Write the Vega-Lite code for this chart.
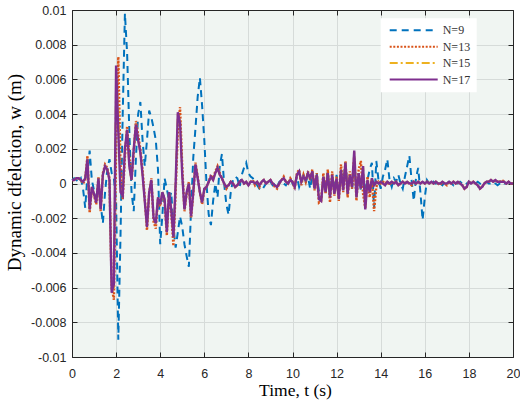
{
"$schema": "https://vega.github.io/schema/vega-lite/v6.json",
"width": 441, "height": 347,
"autosize": {"type": "none"},
"padding": {"left": 72, "top": 10, "right": 7, "bottom": 48},
"background": "white",
"config": {
  "view": {"fill": "#F0F5F2", "stroke": null},
  "axis": {"domainColor": "#262626", "tickColor": "#262626", "labelColor": "#262626", "labelFont": "Liberation Sans", "labelFontSize": 12.5, "gridColor": "#D6DBD9", "gridWidth": 1, "domainWidth": 1, "tickWidth": 1, "titleFont": "Liberation Serif", "titleFontWeight": "normal", "titleColor": "#000000"}
},
"data": {"values": [
{"t":0,"N=9":0.0002,"N=13":0.0002,"N=15":0.0002,"N=17":0.0002},
{"t":0.1,"N=9":0.0003,"N=13":0.0002,"N=15":0.0002,"N=17":0.0002},
{"t":0.2,"N=9":0.0002,"N=13":0.0003,"N=15":0.0003,"N=17":0.0003},
{"t":0.3,"N=9":0.0001,"N=13":0.0003,"N=15":0.0003,"N=17":0.0003},
{"t":0.4,"N=9":0.0003,"N=13":0.0002,"N=15":0.0002,"N=17":0.0002},
{"t":0.5,"N=9":-0.0003,"N=13":0,"N=15":0.0001,"N=17":0.0001},
{"t":0.6,"N=9":-0.0014,"N=13":0.0002,"N=15":0.0003,"N=17":0.0003},
{"t":0.7,"N=9":0.0005,"N=13":0.0016,"N=15":0.0014,"N=17":0.0014},
{"t":0.8,"N=9":0.0019,"N=13":-0.0017,"N=15":-0.0015,"N=17":-0.0015},
{"t":0.9,"N=9":0.0002,"N=13":-0.0003,"N=15":-0.0002,"N=17":-0.0002},
{"t":1.0,"N=9":-0.0004,"N=13":-0.0007,"N=15":-0.0006,"N=17":-0.0006},
{"t":1.1,"N=9":-0.0007,"N=13":-0.0012,"N=15":-0.0011,"N=17":-0.0011},
{"t":1.2,"N=9":-0.0002,"N=13":0.0004,"N=15":0.0003,"N=17":0.0003},
{"t":1.3,"N=9":-0.0012,"N=13":-0.0016,"N=15":-0.0015,"N=17":-0.0015},
{"t":1.4,"N=9":-0.0023,"N=13":0.0006,"N=15":0.0005,"N=17":0.0005},
{"t":1.5,"N=9":-0.0005,"N=13":0.0011,"N=15":0.001,"N=17":0.001},
{"t":1.6,"N=9":0.0008,"N=13":0.0009,"N=15":0.0008,"N=17":0.0008},
{"t":1.7,"N=9":0.0014,"N=13":0.0003,"N=15":0.0002,"N=17":0.0002},
{"t":1.8,"N=9":0.0006,"N=13":-0.006,"N=15":-0.0062,"N=17":-0.0063},
{"t":1.9,"N=9":0.0003,"N=13":-0.0067,"N=15":-0.006,"N=17":-0.0058},
{"t":2.0,"N=9":-0.001,"N=13":0.002,"N=15":0.006,"N=17":0.0068},
{"t":2.1,"N=9":-0.009,"N=13":0.0073,"N=15":0.0045,"N=17":0.003},
{"t":2.2,"N=9":-0.003,"N=13":0.001,"N=15":-0.0002,"N=17":-0.0005},
{"t":2.3,"N=9":0.004,"N=13":-0.0009,"N=15":-0.0007,"N=17":-0.0007},
{"t":2.4,"N=9":0.0098,"N=13":0.0015,"N=15":0.002,"N=17":0.002},
{"t":2.5,"N=9":0.0075,"N=13":0.0033,"N=15":0.0031,"N=17":0.0031},
{"t":2.6,"N=9":0.003,"N=13":0.0015,"N=15":0.001,"N=17":0.001},
{"t":2.7,"N=9":-0.0005,"N=13":0.0002,"N=15":0.0002,"N=17":0.0002},
{"t":2.8,"N=9":-0.0016,"N=13":0.0018,"N=15":0.002,"N=17":0.002},
{"t":2.9,"N=9":0.0015,"N=13":0.0036,"N=15":0.0034,"N=17":0.0034},
{"t":3.0,"N=9":0.004,"N=13":0.0028,"N=15":0.0025,"N=17":0.0025},
{"t":3.1,"N=9":0.0047,"N=13":0.002,"N=15":0.0018,"N=17":0.0018},
{"t":3.2,"N=9":0.0025,"N=13":0.0008,"N=15":0.0005,"N=17":0.0005},
{"t":3.3,"N=9":0.001,"N=13":-0.0008,"N=15":-0.001,"N=17":-0.001},
{"t":3.4,"N=9":0.0025,"N=13":-0.0027,"N=15":-0.0025,"N=17":-0.0025},
{"t":3.5,"N=9":0.0042,"N=13":-0.0006,"N=15":-0.0005,"N=17":-0.0005},
{"t":3.6,"N=9":0.0038,"N=13":0.0003,"N=15":0.0002,"N=17":0.0002},
{"t":3.7,"N=9":0.0032,"N=13":-0.0022,"N=15":-0.002,"N=17":-0.002},
{"t":3.8,"N=9":0.0025,"N=13":-0.0026,"N=15":-0.0023,"N=17":-0.0023},
{"t":3.9,"N=9":0.0008,"N=13":-0.0009,"N=15":-0.0008,"N=17":-0.0008},
{"t":4.0,"N=9":-0.0035,"N=13":-0.0013,"N=15":-0.0012,"N=17":-0.0012},
{"t":4.1,"N=9":-0.0018,"N=13":-0.0006,"N=15":-0.0005,"N=17":-0.0005},
{"t":4.2,"N=9":0.0003,"N=13":-0.001,"N=15":-0.0009,"N=17":-0.0009},
{"t":4.3,"N=9":-0.0003,"N=13":-0.003,"N=15":-0.0028,"N=17":-0.0028},
{"t":4.4,"N=9":-0.001,"N=13":-0.0006,"N=15":-0.0005,"N=17":-0.0005},
{"t":4.5,"N=9":-0.0005,"N=13":-0.0017,"N=15":-0.0015,"N=17":-0.0015},
{"t":4.6,"N=9":-0.0025,"N=13":-0.0036,"N=15":-0.0031,"N=17":-0.0031},
{"t":4.7,"N=9":-0.0037,"N=13":-0.0005,"N=15":0,"N=17":0},
{"t":4.8,"N=9":-0.0028,"N=13":0.003,"N=15":0.004,"N=17":0.0041},
{"t":4.9,"N=9":-0.0019,"N=13":0.0044,"N=15":0.0036,"N=17":0.0035},
{"t":5.0,"N=9":-0.0025,"N=13":0.001,"N=15":0.0005,"N=17":0.0005},
{"t":5.1,"N=9":-0.0035,"N=13":-0.0016,"N=15":-0.0015,"N=17":-0.0015},
{"t":5.2,"N=9":-0.0042,"N=13":-0.0006,"N=15":-0.0005,"N=17":-0.0005},
{"t":5.3,"N=9":-0.0048,"N=13":0.0001,"N=15":0,"N=17":0},
{"t":5.4,"N=9":-0.0015,"N=13":-0.002,"N=15":-0.0019,"N=17":-0.0019},
{"t":5.5,"N=9":0.0015,"N=13":-0.0006,"N=15":-0.0005,"N=17":-0.0005},
{"t":5.6,"N=9":0.0032,"N=13":0.0012,"N=15":0.0011,"N=17":0.0011},
{"t":5.7,"N=9":0.005,"N=13":0.0004,"N=15":0.0003,"N=17":0.0003},
{"t":5.8,"N=9":0.0061,"N=13":-0.0005,"N=15":-0.0005,"N=17":-0.0005},
{"t":5.9,"N=9":0.0045,"N=13":-0.0012,"N=15":-0.0011,"N=17":-0.0011},
{"t":6.0,"N=9":0.0025,"N=13":-0.0004,"N=15":-0.0003,"N=17":-0.0003},
{"t":6.1,"N=9":0,"N=13":-0.0002,"N=15":-0.0002,"N=17":-0.0002},
{"t":6.2,"N=9":-0.0018,"N=13":0.0001,"N=15":0.0001,"N=17":0.0001},
{"t":6.3,"N=9":-0.0024,"N=13":0.0005,"N=15":0.0004,"N=17":0.0004},
{"t":6.4,"N=9":-0.001,"N=13":0.0003,"N=15":0.0002,"N=17":0.0002},
{"t":6.5,"N=9":0,"N=13":0.0007,"N=15":0.0006,"N=17":0.0006},
{"t":6.6,"N=9":-0.0008,"N=13":0.001,"N=15":0.0009,"N=17":0.0009},
{"t":6.7,"N=9":0.001,"N=13":0.0006,"N=15":0.0005,"N=17":0.0005},
{"t":6.8,"N=9":0.0017,"N=13":0.0003,"N=15":0.0003,"N=17":0.0003},
{"t":6.9,"N=9":0,"N=13":0,"N=15":0,"N=17":0},
{"t":7.0,"N=9":-0.0012,"N=13":-0.0003,"N=15":-0.0002,"N=17":-0.0002},
{"t":7.1,"N=9":-0.0018,"N=13":-0.0001,"N=15":-0.0001,"N=17":-0.0001},
{"t":7.2,"N=9":-0.0005,"N=13":0.0001,"N=15":0.0001,"N=17":0.0001},
{"t":7.3,"N=9":0.0002,"N=13":0,"N=15":0,"N=17":0},
{"t":7.4,"N=9":0.0004,"N=13":-0.0002,"N=15":-0.0002,"N=17":-0.0002},
{"t":7.5,"N=9":0.0003,"N=13":-0.0001,"N=15":-0.0001,"N=17":-0.0001},
{"t":7.6,"N=9":-0.0002,"N=13":0.0001,"N=15":0.0001,"N=17":0.0001},
{"t":7.7,"N=9":0.0005,"N=13":0.0002,"N=15":0.0002,"N=17":0.0002},
{"t":7.8,"N=9":0.0009,"N=13":0,"N=15":0,"N=17":0},
{"t":7.9,"N=9":0.0012,"N=13":0.0001,"N=15":0.0001,"N=17":0.0001},
{"t":8.0,"N=9":0.0006,"N=13":-0.0001,"N=15":-0.0001,"N=17":-0.0001},
{"t":8.1,"N=9":0.0004,"N=13":0.0001,"N=15":0.0001,"N=17":0.0001},
{"t":8.2,"N=9":0.0003,"N=13":0.0002,"N=15":0.0001,"N=17":0.0001},
{"t":8.3,"N=9":0.0001,"N=13":-0.0001,"N=15":0,"N=17":0},
{"t":8.4,"N=9":-0.0001,"N=13":0.0001,"N=15":0.0001,"N=17":0.0001},
{"t":8.5,"N=9":-0.0003,"N=13":-0.0002,"N=15":-0.0001,"N=17":-0.0001},
{"t":8.6,"N=9":-0.0004,"N=13":0.0001,"N=15":0.0001,"N=17":0.0001},
{"t":8.7,"N=9":-0.0002,"N=13":0.0002,"N=15":0.0002,"N=17":0.0002},
{"t":8.8,"N=9":0,"N=13":0,"N=15":0,"N=17":0},
{"t":8.9,"N=9":0.0002,"N=13":0.0001,"N=15":0.0001,"N=17":0.0001},
{"t":9.0,"N=9":0.0001,"N=13":0.0002,"N=15":0.0002,"N=17":0.0002},
{"t":9.1,"N=9":-0.0001,"N=13":0,"N=15":0,"N=17":0},
{"t":9.2,"N=9":0,"N=13":-0.0002,"N=15":-0.0001,"N=17":-0.0001},
{"t":9.3,"N=9":-0.0002,"N=13":-0.0003,"N=15":-0.0002,"N=17":-0.0002},
{"t":9.4,"N=9":0.0001,"N=13":0,"N=15":0,"N=17":0},
{"t":9.5,"N=9":0.0002,"N=13":0.0002,"N=15":0.0002,"N=17":0.0002},
{"t":9.6,"N=9":0,"N=13":0.0004,"N=15":0.0003,"N=17":0.0003},
{"t":9.7,"N=9":-0.0001,"N=13":0.0001,"N=15":0.0001,"N=17":0.0001},
{"t":9.8,"N=9":0.0001,"N=13":0,"N=15":0,"N=17":0},
{"t":9.9,"N=9":0.0003,"N=13":0.0003,"N=15":0.0002,"N=17":0.0002},
{"t":10.0,"N=9":0,"N=13":0.0001,"N=15":0.0001,"N=17":0.0001},
{"t":10.1,"N=9":-0.0002,"N=13":-0.0003,"N=15":-0.0002,"N=17":-0.0002},
{"t":10.2,"N=9":0.0004,"N=13":0.0006,"N=15":0.0005,"N=17":0.0005},
{"t":10.3,"N=9":-0.0002,"N=13":0.0008,"N=15":0.0007,"N=17":0.0007},
{"t":10.4,"N=9":0.0002,"N=13":-0.0001,"N=15":0.0001,"N=17":0.0001},
{"t":10.5,"N=9":0.0005,"N=13":0.0005,"N=15":0.0004,"N=17":0.0004},
{"t":10.6,"N=9":0.0001,"N=13":0.0001,"N=15":0.0002,"N=17":0.0002},
{"t":10.7,"N=9":0.0004,"N=13":0.0007,"N=15":0.0006,"N=17":0.0006},
{"t":10.8,"N=9":-0.0003,"N=13":0.0002,"N=15":0.0003,"N=17":0.0003},
{"t":10.9,"N=9":0.0005,"N=13":0.0008,"N=15":0.0007,"N=17":0.0007},
{"t":11.0,"N=9":-0.0002,"N=13":-0.0004,"N=15":-0.0003,"N=17":-0.0003},
{"t":11.1,"N=9":0.0006,"N=13":0.0006,"N=15":0.0005,"N=17":0.0005},
{"t":11.2,"N=9":-0.0005,"N=13":-0.0011,"N=15":-0.0009,"N=17":-0.0009},
{"t":11.3,"N=9":-0.0009,"N=13":-0.001,"N=15":-0.001,"N=17":-0.001},
{"t":11.4,"N=9":0.0003,"N=13":0.0006,"N=15":0.0004,"N=17":0.0004},
{"t":11.5,"N=9":-0.0004,"N=13":-0.0006,"N=15":-0.0005,"N=17":-0.0005},
{"t":11.6,"N=9":0.0007,"N=13":0.0008,"N=15":0.0006,"N=17":0.0006},
{"t":11.7,"N=9":-0.0006,"N=13":-0.0011,"N=15":-0.0008,"N=17":-0.0008},
{"t":11.8,"N=9":0.0004,"N=13":0.0007,"N=15":0.0005,"N=17":0.0005},
{"t":11.9,"N=9":-0.0003,"N=13":-0.0007,"N=15":-0.0006,"N=17":-0.0006},
{"t":12.0,"N=9":0.0005,"N=13":0.0004,"N=15":0.0003,"N=17":0.0003},
{"t":12.1,"N=9":-0.0006,"N=13":-0.001,"N=15":-0.0009,"N=17":-0.0009},
{"t":12.2,"N=9":0.0006,"N=13":0.0011,"N=15":0.0008,"N=17":0.0008},
{"t":12.3,"N=9":0,"N=13":-0.0005,"N=15":-0.0004,"N=17":-0.0004},
{"t":12.4,"N=9":0.0012,"N=13":0.0013,"N=15":0.0012,"N=17":0.0012},
{"t":12.5,"N=9":-0.0002,"N=13":-0.0008,"N=15":-0.0006,"N=17":-0.0006},
{"t":12.6,"N=9":0.0004,"N=13":0.0007,"N=15":0.0005,"N=17":0.0005},
{"t":12.7,"N=9":-0.0003,"N=13":-0.0003,"N=15":-0.0002,"N=17":-0.0002},
{"t":12.8,"N=9":0.0008,"N=13":0.0015,"N=15":0.0018,"N=17":0.0019},
{"t":12.9,"N=9":-0.0005,"N=13":-0.001,"N=15":-0.0008,"N=17":-0.0008},
{"t":13.0,"N=9":0.0006,"N=13":0.0008,"N=15":0.0006,"N=17":0.0006},
{"t":13.1,"N=9":-0.0004,"N=13":0.0013,"N=15":-0.0003,"N=17":-0.0003},
{"t":13.2,"N=9":0.0005,"N=13":-0.0006,"N=15":0.001,"N=17":0.001},
{"t":13.3,"N=9":-0.0003,"N=13":-0.0014,"N=15":-0.0015,"N=17":-0.0015},
{"t":13.4,"N=9":0.0002,"N=13":0.0004,"N=15":0.0002,"N=17":0.0002},
{"t":13.5,"N=9":0.0008,"N=13":-0.0008,"N=15":-0.0005,"N=17":-0.0005},
{"t":13.6,"N=9":0.0012,"N=13":0.0002,"N=15":0.0003,"N=17":0.0003},
{"t":13.7,"N=9":-0.0014,"N=13":-0.0016,"N=15":-0.0001,"N=17":-0.0001},
{"t":13.8,"N=9":0.0013,"N=13":-0.0002,"N=15":0.0001,"N=17":0.0001},
{"t":13.9,"N=9":0.0002,"N=13":0.0001,"N=15":0,"N=17":0},
{"t":14.0,"N=9":-0.0003,"N=13":0,"N=15":0.0001,"N=17":0.0001},
{"t":14.1,"N=9":0.0004,"N=13":0.0001,"N=15":0,"N=17":0},
{"t":14.2,"N=9":0.0008,"N=13":0,"N=15":-0.0001,"N=17":-0.0001},
{"t":14.3,"N=9":0.0014,"N=13":0.0001,"N=15":0.0001,"N=17":0.0001},
{"t":14.4,"N=9":0.0002,"N=13":-0.0001,"N=15":0,"N=17":0},
{"t":14.5,"N=9":-0.0002,"N=13":0.0001,"N=15":0.0001,"N=17":0.0001},
{"t":14.6,"N=9":0.0003,"N=13":0,"N=15":0,"N=17":0},
{"t":14.7,"N=9":0.0001,"N=13":0.0001,"N=15":0.0001,"N=17":0.0001},
{"t":14.8,"N=9":0.0005,"N=13":-0.0001,"N=15":-0.0001,"N=17":-0.0001},
{"t":14.9,"N=9":0,"N=13":0,"N=15":0,"N=17":0},
{"t":15.0,"N=9":-0.0003,"N=13":0.0001,"N=15":0.0001,"N=17":0.0001},
{"t":15.1,"N=9":0.0004,"N=13":0,"N=15":0,"N=17":0},
{"t":15.2,"N=9":0.001,"N=13":0.0001,"N=15":0.0001,"N=17":0.0001},
{"t":15.3,"N=9":0.0016,"N=13":0,"N=15":0,"N=17":0},
{"t":15.4,"N=9":0.0002,"N=13":-0.0001,"N=15":0,"N=17":0},
{"t":15.5,"N=9":-0.001,"N=13":0.0001,"N=15":0.0001,"N=17":0.0001},
{"t":15.6,"N=9":0.0003,"N=13":0,"N=15":0,"N=17":0},
{"t":15.7,"N=9":0.0009,"N=13":0.0001,"N=15":0.0001,"N=17":0.0001},
{"t":15.8,"N=9":-0.0005,"N=13":0,"N=15":0,"N=17":0},
{"t":15.9,"N=9":-0.0021,"N=13":0.0001,"N=15":0.0001,"N=17":0.0001},
{"t":16.0,"N=9":-0.0008,"N=13":0,"N=15":0,"N=17":0},
{"t":16.1,"N=9":0.0002,"N=13":0.0001,"N=15":0.0001,"N=17":0.0001},
{"t":16.2,"N=9":0,"N=13":0,"N=15":0,"N=17":0},
{"t":16.3,"N=9":-0.0001,"N=13":0.0001,"N=15":0.0001,"N=17":0.0001},
{"t":16.4,"N=9":0.0001,"N=13":0,"N=15":0,"N=17":0},
{"t":16.5,"N=9":0,"N=13":0.0001,"N=15":0.0001,"N=17":0.0001},
{"t":16.6,"N=9":0.0002,"N=13":0,"N=15":0,"N=17":0},
{"t":16.7,"N=9":0,"N=13":-0.0001,"N=15":0,"N=17":0},
{"t":16.8,"N=9":-0.0001,"N=13":0.0001,"N=15":0.0001,"N=17":0.0001},
{"t":16.9,"N=9":0.0001,"N=13":0,"N=15":0,"N=17":0},
{"t":17.0,"N=9":0,"N=13":-0.0001,"N=15":0,"N=17":0},
{"t":17.1,"N=9":0.0001,"N=13":0.0001,"N=15":0.0001,"N=17":0.0001},
{"t":17.2,"N=9":0,"N=13":0,"N=15":0,"N=17":0},
{"t":17.3,"N=9":-0.0001,"N=13":0.0001,"N=15":0.0001,"N=17":0.0001},
{"t":17.4,"N=9":0.0001,"N=13":0,"N=15":0,"N=17":0},
{"t":17.5,"N=9":0,"N=13":0.0001,"N=15":0.0001,"N=17":0.0001},
{"t":17.6,"N=9":0.0001,"N=13":0,"N=15":0,"N=17":0},
{"t":17.7,"N=9":0,"N=13":-0.0001,"N=15":-0.0001,"N=17":-0.0001},
{"t":17.8,"N=9":-0.0001,"N=13":-0.0003,"N=15":-0.0003,"N=17":-0.0003},
{"t":17.9,"N=9":0,"N=13":-0.0002,"N=15":-0.0002,"N=17":-0.0002},
{"t":18.0,"N=9":0.0001,"N=13":0.0001,"N=15":0.0001,"N=17":0.0001},
{"t":18.1,"N=9":0,"N=13":0,"N=15":0,"N=17":0},
{"t":18.2,"N=9":-0.0001,"N=13":0.0001,"N=15":0.0001,"N=17":0.0001},
{"t":18.3,"N=9":0,"N=13":0,"N=15":0,"N=17":0},
{"t":18.4,"N=9":0.0001,"N=13":-0.0001,"N=15":-0.0001,"N=17":-0.0001},
{"t":18.5,"N=9":0,"N=13":-0.0003,"N=15":-0.0002,"N=17":-0.0003},
{"t":18.6,"N=9":-0.0001,"N=13":-0.0002,"N=15":-0.0002,"N=17":-0.0002},
{"t":18.7,"N=9":0,"N=13":0,"N=15":0,"N=17":0},
{"t":18.8,"N=9":0.0001,"N=13":0.0001,"N=15":0.0001,"N=17":0.0001},
{"t":18.9,"N=9":0,"N=13":0.0001,"N=15":0.0001,"N=17":0.0001},
{"t":19.0,"N=9":0,"N=13":0.0002,"N=15":0.0002,"N=17":0.0002},
{"t":19.1,"N=9":0.0001,"N=13":0.0001,"N=15":0.0001,"N=17":0.0001},
{"t":19.2,"N=9":0,"N=13":0.0002,"N=15":0.0002,"N=17":0.0002},
{"t":19.3,"N=9":-0.0001,"N=13":0.0001,"N=15":0.0001,"N=17":0.0001},
{"t":19.4,"N=9":0,"N=13":0.0001,"N=15":0.0001,"N=17":0.0001},
{"t":19.5,"N=9":0.0001,"N=13":0.0002,"N=15":0.0001,"N=17":0.0001},
{"t":19.6,"N=9":0,"N=13":0.0001,"N=15":0.0001,"N=17":0.0001},
{"t":19.7,"N=9":0,"N=13":0,"N=15":0,"N=17":0},
{"t":19.8,"N=9":0.0001,"N=13":0.0001,"N=15":0.0001,"N=17":0.0001},
{"t":19.9,"N=9":0,"N=13":0,"N=15":0,"N=17":0},
{"t":20.0,"N=9":0,"N=13":0,"N=15":0,"N=17":0}
]},
"transform": [{"fold": ["N=9", "N=13", "N=15", "N=17"], "as": ["series", "w"]}],
"layer": [
  {
    "encoding": {
      "x": {"field": "t", "type": "quantitative", "scale": {"domain": [0, 20], "nice": false, "zero": false},
        "axis": {"orient": "bottom", "values": [0,2,4,6,8,10,12,14,16,18,20], "format": "d", "grid": true, "tickSize": -5, "labelPadding": 15, "labelFlush": false,
          "title": "Time, t (s)", "titleFontSize": 17.5, "titleX": 223, "titleY": 38, "titleBaseline": "alphabetic", "titleAlign": "center"}},
      "y": {"field": "w", "type": "quantitative", "scale": {"domain": [-0.01, 0.01], "nice": false, "zero": false},
        "axis": {"orient": "left", "values": [-0.01,-0.008,-0.006,-0.004,-0.002,0,0.002,0.004,0.006,0.008,0.01], "labelExpr": "datum.value < 0 ? '-' + format(-datum.value, '~g') : format(datum.value, '~g')", "grid": true, "tickSize": -5, "labelPadding": 11, "labelFlush": false,
          "title": "Dynamic dfelction, w (m)", "titleFontSize": 19, "titleX": -58, "titleY": 162, "titleAngle": -90, "titleBaseline": "middle", "titleAlign": "center"}},
      "color": {"field": "series", "type": "nominal", "scale": {"domain": ["N=9", "N=13", "N=15", "N=17"], "range": ["#0072BD", "#D95319", "#EDB120", "#7E2F8E"]},
        "legend": {"title": null, "orient": "none", "legendX": 308.7, "legendY": 8.3, "fillColor": "white", "padding": 6, "symbolType": "stroke", "symbolSize": 2304, "symbolStrokeWidth": 2, "clipHeight": 12, "rowPadding": 4.4, "labelFont": "Liberation Serif", "labelFontSize": 12, "labelColor": "#333333", "labelOffset": 4, "symbolOffset": 2}},
      "strokeDash": {"field": "series", "type": "nominal", "scale": {"domain": ["N=9", "N=13", "N=15", "N=17"], "range": [[7, 5], [2, 1.6], [8, 3, 2, 3], [1, 0]]},
        "legend": {"title": null, "orient": "none", "legendX": 308.7, "legendY": 8.3, "fillColor": "white", "padding": 6, "symbolType": "stroke", "symbolSize": 2304, "symbolStrokeWidth": 2, "clipHeight": 12, "rowPadding": 4.4, "labelFont": "Liberation Serif", "labelFontSize": 12, "labelColor": "#333333", "labelOffset": 4, "symbolOffset": 2}}
    },
    "layer": [
      {"transform": [{"filter": "datum.series === 'N=9'"}], "mark": {"type": "line", "strokeWidth": 2}},
      {"transform": [{"filter": "datum.series === 'N=13'"}], "mark": {"type": "line", "strokeWidth": 2.4}},
      {"transform": [{"filter": "datum.series === 'N=15'"}], "mark": {"type": "line", "strokeWidth": 2}},
      {"transform": [{"filter": "datum.series === 'N=17'"}], "mark": {"type": "line", "strokeWidth": 2.4}}
    ]
  },
  {
    "transform": [{"filter": "datum.series === 'N=17'"}],
    "mark": {"type": "line", "strokeOpacity": 0},
    "encoding": {
      "x": {"field": "t", "type": "quantitative", "scale": {"domain": [0, 20], "nice": false, "zero": false},
        "axis": {"orient": "top", "values": [0,2,4,6,8,10,12,14,16,18,20], "labels": false, "grid": false, "tickSize": -5, "title": null}},
      "y": {"field": "w", "type": "quantitative", "scale": {"domain": [-0.01, 0.01], "nice": false, "zero": false},
        "axis": {"orient": "right", "values": [-0.01,-0.008,-0.006,-0.004,-0.002,0,0.002,0.004,0.006,0.008,0.01], "labels": false, "grid": false, "tickSize": -5, "title": null}}
    }
  }
],
"resolve": {"axis": {"x": "independent", "y": "independent"}}
}
